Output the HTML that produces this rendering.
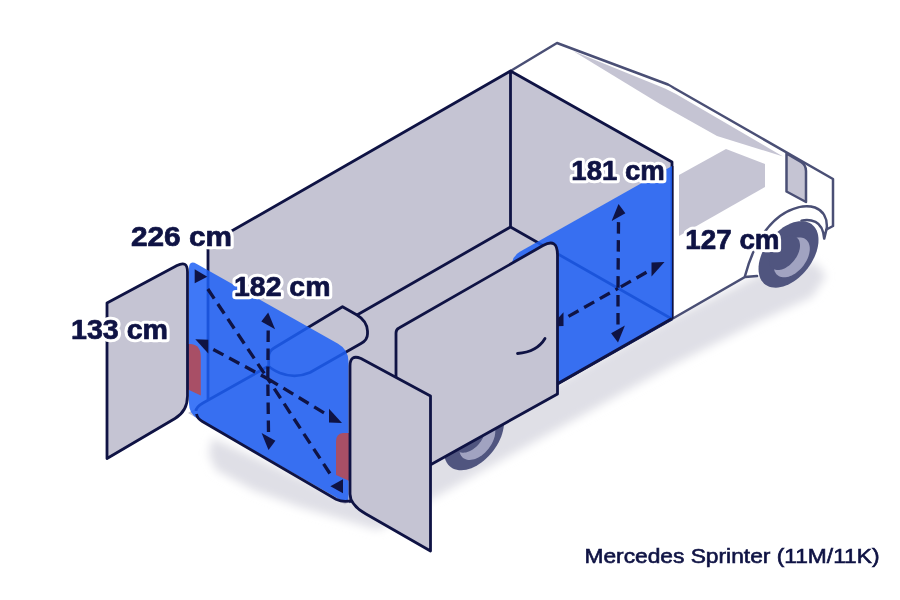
<!DOCTYPE html>
<html><head><meta charset="utf-8"><style>
html,body{margin:0;padding:0;background:#fff;width:900px;height:600px;overflow:hidden}
svg{display:block;filter:blur(0.4px)}
text{font-family:"Liberation Sans",sans-serif}
</style></head><body>
<svg width="900" height="600" viewBox="0 0 900 600">
<defs><filter id="blur" x="-20%" y="-20%" width="140%" height="140%"><feGaussianBlur stdDeviation="9"/></filter><filter id="blur2" x="-20%" y="-20%" width="140%" height="140%"><feGaussianBlur stdDeviation="5"/></filter></defs>
<rect width="900" height="600" fill="#fff"/>
<polygon points="212.0,438.0 349.0,500.0 672.0,318.0 760.0,274.0 815.0,262.0 826.0,276.0 812.0,297.0 760.0,321.0 673.0,365.0 430.0,500.0 378.0,530.0 300.0,507.0 253.0,490.0 216.0,470.0 209.0,455.0" fill="#dfdfe6" filter="url(#blur2)"/>
<polygon points="510.5,71.0 557.0,43.0 670.0,85.0 833.0,179.0 833.0,227.0 825.0,237.0 757.0,276.0 745.0,277.0 672.0,319.0 672.0,162.0" fill="#fff"/>
<polygon points="573.0,51.0 665.0,88.5 676.0,94.0 783.0,156.5 717.0,136.0 660.0,104.0" fill="#c5c4d3"/>
<polygon points="679.0,175.0 726.0,149.0 765.0,164.0 765.0,187.0 679.0,236.0" fill="#c5c4d3"/>
<path d="M510.5,71 L557,43 L668,84.5 Q671,86 674,88 L833,179 L833,226 L826.5,229.5" fill="none" stroke="#4a4f75" stroke-width="2.5" stroke-linejoin="round" stroke-linecap="round"/>
<path d="M786.5,153.5 L801,162 Q806,165 806,171 L806,202 L786.5,191.5 Z" fill="#c5c4d3" stroke="#4a4f75" stroke-width="2.5" stroke-linejoin="round"/>
<path d="M818.50,240.00 L818.39,242.67 L818.04,245.43 L817.48,248.26 L816.69,251.13 L815.69,254.03 L814.48,256.93 L813.07,259.81 L811.48,262.65 L809.71,265.43 L807.78,268.13 L805.71,270.72 L803.50,273.18 L801.18,275.50 L798.76,277.67 L796.26,279.65 L793.71,281.44 L791.11,283.03 L788.50,284.40 L785.89,285.54 L783.29,286.44 L780.74,287.10 L778.24,287.52 L775.82,287.67 L773.50,287.58 L771.29,287.23 L769.22,286.64 L767.29,285.80 L765.52,284.71 L763.93,283.40 L762.52,281.87 L761.31,280.13 L760.31,278.19 L759.52,276.07 L758.96,273.79 L758.61,271.36 L758.50,268.80 L758.61,266.13 L758.96,263.37 L759.52,260.54 L760.31,257.67 L761.31,254.77 L762.52,251.87 L763.93,248.99 L765.52,246.15 L767.29,243.37 L769.22,240.67 L771.29,238.08 L773.50,235.62 L775.82,233.30 L778.24,231.13 L780.74,229.15 L783.29,227.36 L785.89,225.77 L788.50,224.40 L791.11,223.26 L793.71,222.36 L796.26,221.70 L798.76,221.28 L801.18,221.13 L803.50,221.22 L805.71,221.57 L807.78,222.16 L809.71,223.00 L811.48,224.09 L813.07,225.40 L814.48,226.93 L815.69,228.67 L816.69,230.61 L817.48,232.73 L818.04,235.01 L818.39,237.44 Z" fill="#50557f"/>
<path d="M809.80,248.76 L809.73,250.36 L809.53,252.02 L809.19,253.71 L808.71,255.44 L808.11,257.18 L807.39,258.92 L806.54,260.65 L805.59,262.35 L804.53,264.02 L803.37,265.64 L802.12,267.19 L800.80,268.67 L799.41,270.06 L797.96,271.36 L796.46,272.55 L794.93,273.63 L793.37,274.58 L791.80,275.40 L790.23,276.08 L788.67,276.63 L787.14,277.02 L785.64,277.27 L784.19,277.36 L782.80,277.31 L781.48,277.10 L780.23,276.74 L779.07,276.24 L778.01,275.59 L777.06,274.80 L776.21,273.88 L775.49,272.84 L774.89,271.68 L774.41,270.40 L774.07,269.03 L773.87,267.58 L773.80,266.04 L773.87,264.44 L774.07,262.78 L774.41,261.09 L774.89,259.36 L775.49,257.62 L776.21,255.88 L777.06,254.15 L778.01,252.45 L779.07,250.78 L780.23,249.16 L781.48,247.61 L782.80,246.13 L784.19,244.74 L785.64,243.44 L787.14,242.25 L788.67,241.17 L790.23,240.22 L791.80,239.40 L793.37,238.72 L794.93,238.17 L796.46,237.78 L797.96,237.53 L799.41,237.44 L800.80,237.49 L802.12,237.70 L803.37,238.06 L804.53,238.56 L805.59,239.21 L806.54,240.00 L807.39,240.92 L808.11,241.96 L808.71,243.12 L809.19,244.40 L809.53,245.77 L809.73,247.22 Z" fill="#a1a3c1"/>
<path d="M800.00,245.46 L799.94,246.84 L799.76,248.26 L799.47,249.73 L799.07,251.21 L798.55,252.71 L797.92,254.21 L797.20,255.70 L796.37,257.16 L795.46,258.60 L794.46,259.99 L793.39,261.33 L792.25,262.60 L791.05,263.80 L789.80,264.92 L788.51,265.95 L787.19,266.87 L785.85,267.69 L784.50,268.40 L783.15,268.99 L781.81,269.46 L780.49,269.80 L779.20,270.01 L777.95,270.09 L776.75,270.04 L775.61,269.86 L774.54,269.56 L773.54,269.12 L772.63,268.56 L771.80,267.88 L771.08,267.09 L770.45,266.19 L769.93,265.19 L769.53,264.10 L769.24,262.92 L769.06,261.66 L769.00,260.34 L769.06,258.96 L769.24,257.54 L769.53,256.07 L769.93,254.59 L770.45,253.09 L771.08,251.59 L771.80,250.10 L772.63,248.64 L773.54,247.20 L774.54,245.81 L775.61,244.47 L776.75,243.20 L777.95,242.00 L779.20,240.88 L780.49,239.85 L781.81,238.93 L783.15,238.11 L784.50,237.40 L785.85,236.81 L787.19,236.34 L788.51,236.00 L789.80,235.79 L791.05,235.71 L792.25,235.76 L793.39,235.94 L794.46,236.24 L795.46,236.68 L796.37,237.24 L797.20,237.92 L797.92,238.71 L798.55,239.61 L799.07,240.61 L799.47,241.70 L799.76,242.88 L799.94,244.14 Z" fill="#50557f"/>
<path d="M745,276 C752,250 764,228 780,216 C792,207.5 805,204.5 815,207.5 C823,210.5 827.5,218 826.8,228 L824.2,238.6 C823.6,231 821,224.5 815.5,221.8 C811,219.8 806,219.6 801.5,220.6" fill="none" stroke="#4a4f75" stroke-width="2.5" stroke-linejoin="round" stroke-linecap="round"/>
<path d="M672,319 L745,277 L757,276" fill="none" stroke="#4a4f75" stroke-width="2.5" stroke-linecap="round"/>
<path d="M504.00,422.60 L503.89,425.27 L503.54,428.03 L502.98,430.86 L502.19,433.73 L501.19,436.63 L499.98,439.53 L498.57,442.41 L496.98,445.25 L495.21,448.03 L493.28,450.73 L491.21,453.32 L489.00,455.78 L486.68,458.10 L484.26,460.27 L481.76,462.25 L479.21,464.04 L476.61,465.63 L474.00,467.00 L471.39,468.14 L468.79,469.04 L466.24,469.70 L463.74,470.12 L461.32,470.27 L459.00,470.18 L456.79,469.83 L454.72,469.24 L452.79,468.40 L451.02,467.31 L449.43,466.00 L448.02,464.47 L446.81,462.73 L445.81,460.79 L445.02,458.67 L444.46,456.39 L444.11,453.96 L444.00,451.40 L444.11,448.73 L444.46,445.97 L445.02,443.14 L445.81,440.27 L446.81,437.37 L448.02,434.47 L449.43,431.59 L451.02,428.75 L452.79,425.97 L454.72,423.27 L456.79,420.68 L459.00,418.22 L461.32,415.90 L463.74,413.73 L466.24,411.75 L468.79,409.96 L471.39,408.37 L474.00,407.00 L476.61,405.86 L479.21,404.96 L481.76,404.30 L484.26,403.88 L486.68,403.73 L489.00,403.82 L491.21,404.17 L493.28,404.76 L495.21,405.60 L496.98,406.69 L498.57,408.00 L499.98,409.53 L501.19,411.27 L502.19,413.21 L502.98,415.33 L503.54,417.61 L503.89,420.04 Z" fill="#50557f"/>
<path d="M495.30,431.36 L495.23,432.96 L495.03,434.62 L494.69,436.31 L494.21,438.04 L493.61,439.78 L492.89,441.52 L492.04,443.25 L491.09,444.95 L490.03,446.62 L488.87,448.24 L487.62,449.79 L486.30,451.27 L484.91,452.66 L483.46,453.96 L481.96,455.15 L480.43,456.23 L478.87,457.18 L477.30,458.00 L475.73,458.68 L474.17,459.23 L472.64,459.62 L471.14,459.87 L469.69,459.96 L468.30,459.91 L466.98,459.70 L465.73,459.34 L464.57,458.84 L463.51,458.19 L462.56,457.40 L461.71,456.48 L460.99,455.44 L460.39,454.28 L459.91,453.00 L459.57,451.63 L459.37,450.18 L459.30,448.64 L459.37,447.04 L459.57,445.38 L459.91,443.69 L460.39,441.96 L460.99,440.22 L461.71,438.48 L462.56,436.75 L463.51,435.05 L464.57,433.38 L465.73,431.76 L466.98,430.21 L468.30,428.73 L469.69,427.34 L471.14,426.04 L472.64,424.85 L474.17,423.77 L475.73,422.82 L477.30,422.00 L478.87,421.32 L480.43,420.77 L481.96,420.38 L483.46,420.13 L484.91,420.04 L486.30,420.09 L487.62,420.30 L488.87,420.66 L490.03,421.16 L491.09,421.81 L492.04,422.60 L492.89,423.52 L493.61,424.56 L494.21,425.72 L494.69,427.00 L495.03,428.37 L495.23,429.82 Z" fill="#a1a3c1"/>
<path d="M485.50,428.06 L485.44,429.44 L485.26,430.86 L484.97,432.33 L484.57,433.81 L484.05,435.31 L483.42,436.81 L482.70,438.30 L481.87,439.76 L480.96,441.20 L479.96,442.59 L478.89,443.93 L477.75,445.20 L476.55,446.40 L475.30,447.52 L474.01,448.55 L472.69,449.47 L471.35,450.29 L470.00,451.00 L468.65,451.59 L467.31,452.06 L465.99,452.40 L464.70,452.61 L463.45,452.69 L462.25,452.64 L461.11,452.46 L460.04,452.16 L459.04,451.72 L458.13,451.16 L457.30,450.48 L456.58,449.69 L455.95,448.79 L455.43,447.79 L455.03,446.70 L454.74,445.52 L454.56,444.26 L454.50,442.94 L454.56,441.56 L454.74,440.14 L455.03,438.67 L455.43,437.19 L455.95,435.69 L456.58,434.19 L457.30,432.70 L458.13,431.24 L459.04,429.80 L460.04,428.41 L461.11,427.07 L462.25,425.80 L463.45,424.60 L464.70,423.48 L465.99,422.45 L467.31,421.53 L468.65,420.71 L470.00,420.00 L471.35,419.41 L472.69,418.94 L474.01,418.60 L475.30,418.39 L476.55,418.31 L477.75,418.36 L478.89,418.54 L479.96,418.84 L480.96,419.28 L481.87,419.84 L482.70,420.52 L483.42,421.31 L484.05,422.21 L484.57,423.21 L484.97,424.30 L485.26,425.48 L485.44,426.74 Z" fill="#50557f"/>
<polygon points="208.0,244.5 510.5,71.0 510.5,227.0 208.0,400.5" fill="#c5c4d3"/>
<polygon points="510.5,71.0 672.0,162.0 672.0,319.0 510.5,227.0" fill="#c5c4d3"/>
<polygon points="510.5,227.0 672.0,319.0 344.9,504.4 188.0,413.1" fill="#c5c4d3"/>
<path d="M268.7,366 L268.7,357 Q268.7,351 274,348 L342.5,306.7 L357,315 Q367,321 367.5,331 L367.5,334 Q367.5,340 361,343.5 L310,372.5 Q295,379 280,373 Q271,369 268.7,366 Z" fill="#c5c4d3" stroke="#0f1344" stroke-width="2.8" stroke-linejoin="round"/>
<path d="M208,244.5 L510.5,71 L672,162 L672,319 M510.5,71 L510.5,227 M208,244.5 L208,400 M357,315 L510.5,227 L672,319 M268.7,366 L203,403 Q196,407 196,411" fill="none" stroke="#0f1344" stroke-width="2.8" stroke-linejoin="round"/>
<path d="M672,319 L349,502" fill="none" stroke="#0f1344" stroke-width="2.8"/>
<path d="M189.00,268.60 Q189.00,259.60 196.84,264.03 L338.05,343.80 Q348.50,349.70 348.50,361.70 L348.50,496.50 Q348.50,504.50 341.55,500.54 L197.69,418.65 Q189.00,413.70 189.00,403.70 Z" fill="#1d60f6" fill-opacity="0.85"/>
<path d="M197,416 Q189,413 189.5,405" fill="none" stroke="#0f1344" stroke-width="0"/>
<path d="M196.5,414 Q197.5,418.8 202,421.2 L336,499.2 Q344,503 352,500.2" fill="none" stroke="#0f1344" stroke-width="2.8"/>
<path d="M512.00,265.30 Q512.00,256.30 519.84,251.87 L672.00,165.90 L672.00,319.90 L512.00,410.30 Z" fill="#1d60f6" fill-opacity="0.85"/>
<path d="M672,318.5 L557,384" fill="none" stroke="#0f1344" stroke-width="2.8" stroke-linejoin="round"/>
<path d="M672.9,166 L672.9,318" fill="none" stroke="#0f1344" stroke-width="1.3" stroke-opacity="0.8"/>
<line x1="268.20" y1="330.45" x2="267.80" y2="378.73" stroke="#0f1344" stroke-width="3.3" stroke-dasharray="11.5 6.5" stroke-linecap="butt"/>
<polygon points="268.2,312.5 275.1,329.3 261.3,321.6" fill="#0f1344"/>
<line x1="268.50" y1="431.92" x2="267.80" y2="378.73" stroke="#0f1344" stroke-width="3.3" stroke-dasharray="11.5 6.5" stroke-linecap="butt"/>
<polygon points="268.5,449.9 275.4,440.8 261.6,433.0" fill="#0f1344"/>
<line x1="213.30" y1="349.47" x2="267.80" y2="378.73" stroke="#0f1344" stroke-width="3.3" stroke-dasharray="11.5 6.5" stroke-linecap="butt"/>
<polygon points="195.3,339.3 208.3,353.6 208.3,339.8" fill="#0f1344"/>
<line x1="324.00" y1="412.84" x2="267.80" y2="378.73" stroke="#0f1344" stroke-width="3.3" stroke-dasharray="11.5 6.5" stroke-linecap="butt"/>
<polygon points="342.0,423.0 329.0,422.6 329.0,408.8" fill="#0f1344"/>
<line x1="207.82" y1="289.01" x2="267.80" y2="378.73" stroke="#0f1344" stroke-width="3.3" stroke-dasharray="11.5 6.5" stroke-linecap="butt"/>
<polygon points="194.7,269.3 194.7,283.3 207.3,276.8" fill="#0f1344"/>
<line x1="329.88" y1="473.52" x2="267.80" y2="378.73" stroke="#0f1344" stroke-width="3.3" stroke-dasharray="11.5 6.5" stroke-linecap="butt"/>
<polygon points="343.0,493.2 343.0,479.2 330.4,486.2" fill="#0f1344"/>
<line x1="618.50" y1="222.13" x2="618.00" y2="288.41" stroke="#0f1344" stroke-width="3.3" stroke-dasharray="11.5 6.5" stroke-linecap="butt"/>
<polygon points="618.5,204.1 625.4,213.2 611.6,221.0" fill="#0f1344"/>
<line x1="618.00" y1="324.41" x2="618.00" y2="288.41" stroke="#0f1344" stroke-width="3.3" stroke-dasharray="11.5 6.5" stroke-linecap="butt"/>
<polygon points="618.0,342.4 624.9,325.5 611.1,333.3" fill="#0f1344"/>
<line x1="646.50" y1="272.31" x2="618.00" y2="288.41" stroke="#0f1344" stroke-width="3.3" stroke-dasharray="11.5 6.5" stroke-linecap="butt"/>
<polygon points="664.5,262.1 651.5,276.4 651.5,262.6" fill="#0f1344"/>
<line x1="568.50" y1="316.38" x2="618.00" y2="288.41" stroke="#0f1344" stroke-width="3.3" stroke-dasharray="11.5 6.5" stroke-linecap="butt"/>
<polygon points="550.5,326.5 563.5,326.1 563.5,312.3" fill="#0f1344"/>
<path d="M188,344 L191,344 Q200.8,345 200.8,357 L200.8,395.5 L188,389.5 Z" fill="#a84f66"/>
<path d="M349.5,433 L343,433 Q336,433.5 336,441.5 L336,475 L349.5,481 Z" fill="#a84f66"/>
<path d="M396,484 L396,333 Q396,329.5 399,328 L543,245.5 Q557.5,237.5 557.5,255 L557.5,394 Z" fill="#c5c4d3" stroke="#0f1344" stroke-width="2.8" stroke-linejoin="round"/>
<path d="M517.5,353.5 Q537,352 545,338.5" fill="none" stroke="#0f1344" stroke-width="2.8" stroke-linecap="round"/>
<path d="M350,494 L350,366 Q350,354 361,358.5 L430.5,396 L430.5,551 L366,514 Q350,505 350,494 Z" fill="#c5c4d3" stroke="#0f1344" stroke-width="2.8" stroke-linejoin="round"/>
<path d="M107,303 L177,265.5 Q187.5,260 187.5,272 L187.5,396 Q187.5,411 175,418.5 L107,458.5 Z" fill="#c5c4d3" stroke="#0f1344" stroke-width="2.8" stroke-linejoin="round"/>
<text x="131" y="245.8" font-family="Liberation Sans, sans-serif" font-weight="bold" font-size="27" textLength="101" lengthAdjust="spacingAndGlyphs" fill="#fff" stroke="#fff" stroke-width="6.5" stroke-linejoin="round">226 cm</text><text x="131" y="245.8" font-family="Liberation Sans, sans-serif" font-weight="bold" font-size="27" textLength="101" lengthAdjust="spacingAndGlyphs" fill="#0f1344" stroke="#0f1344" stroke-width="0.7" stroke-linejoin="round">226 cm</text>
<text x="234" y="296.3" font-family="Liberation Sans, sans-serif" font-weight="bold" font-size="27" textLength="96.5" lengthAdjust="spacingAndGlyphs" fill="#fff" stroke="#fff" stroke-width="6.5" stroke-linejoin="round">182 cm</text><text x="234" y="296.3" font-family="Liberation Sans, sans-serif" font-weight="bold" font-size="27" textLength="96.5" lengthAdjust="spacingAndGlyphs" fill="#0f1344" stroke="#0f1344" stroke-width="0.7" stroke-linejoin="round">182 cm</text>
<text x="71" y="339.3" font-family="Liberation Sans, sans-serif" font-weight="bold" font-size="27" textLength="97" lengthAdjust="spacingAndGlyphs" fill="#fff" stroke="#fff" stroke-width="6.5" stroke-linejoin="round">133 cm</text><text x="71" y="339.3" font-family="Liberation Sans, sans-serif" font-weight="bold" font-size="27" textLength="97" lengthAdjust="spacingAndGlyphs" fill="#0f1344" stroke="#0f1344" stroke-width="0.7" stroke-linejoin="round">133 cm</text>
<text x="571.3" y="179.8" font-family="Liberation Sans, sans-serif" font-weight="bold" font-size="27" textLength="93.5" lengthAdjust="spacingAndGlyphs" fill="#fff" stroke="#fff" stroke-width="6.5" stroke-linejoin="round">181 cm</text><text x="571.3" y="179.8" font-family="Liberation Sans, sans-serif" font-weight="bold" font-size="27" textLength="93.5" lengthAdjust="spacingAndGlyphs" fill="#0f1344" stroke="#0f1344" stroke-width="0.7" stroke-linejoin="round">181 cm</text>
<text x="685.3" y="249.3" font-family="Liberation Sans, sans-serif" font-weight="bold" font-size="27" textLength="94.3" lengthAdjust="spacingAndGlyphs" fill="#fff" stroke="#fff" stroke-width="6.5" stroke-linejoin="round">127 cm</text><text x="685.3" y="249.3" font-family="Liberation Sans, sans-serif" font-weight="bold" font-size="27" textLength="94.3" lengthAdjust="spacingAndGlyphs" fill="#0f1344" stroke="#0f1344" stroke-width="0.7" stroke-linejoin="round">127 cm</text>
<text x="584.5" y="563.4" font-family="Liberation Sans, sans-serif" font-size="20" fill="#0f1344" stroke="#0f1344" stroke-width="0.6" textLength="295" lengthAdjust="spacingAndGlyphs">Mercedes Sprinter (11M/11K)</text>
</svg>
</body></html>
